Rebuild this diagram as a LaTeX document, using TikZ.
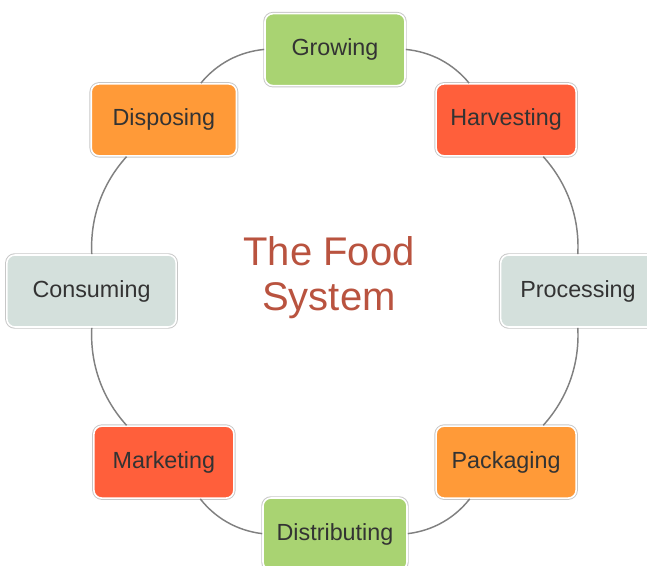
\documentclass[tikz,border=0pt]{standalone}
\usepackage{fontspec}
\setmainfont{Liberation Sans}
\definecolor{leafgreen}{HTML}{A9D372}
\definecolor{tomato}{HTML}{FF5F3B}
\definecolor{carrot}{HTML}{FF9A38}
\definecolor{sage}{HTML}{D4E0DC}
\definecolor{inkgray}{HTML}{333333}
\definecolor{titlered}{HTML}{B9533F}
\tikzset{
    stage/.style={rectangle, rounded corners=6pt, minimum width=105pt, minimum height=54pt,
        font=\fontsize{17.5}{20}\selectfont, text=inkgray,
        draw=white, line width=1.2pt, preaction={draw=black!22, line width=2.6pt}}, % one box per stage
    every to/.style={bend left=22.5, looseness=0.9}, % arcs follow the ring
}
\tikzstyle{link} = [draw=black!50, line width=1.1pt]

\begin{document}
\begin{tikzpicture}
    \useasboundingbox (-251.25pt,-206.25pt) rectangle (234pt,218.25pt);

    \node[stage, fill=leafgreen] (grow) at (90:181pt) {Growing};
    \node[stage, fill=tomato] (harv) at (45:181.5pt) {Harvesting};
    \node[stage, fill=sage, minimum width=116pt] (proc) at (0:182.25pt) {Processing};
    \node[stage, fill=carrot] (pack) at (-45:181.5pt) {Packaging};
    \node[stage, fill=leafgreen, minimum width=108pt] (dist) at (-90:182.25pt) {Distributing};
    \node[stage, fill=tomato] (mark) at (-135:181.5pt) {Marketing};
    \node[stage, fill=sage, minimum width=127pt] (cons) at (180:182.6pt) {Consuming};
    \node[stage, fill=carrot, minimum width=109pt] (disp) at (135:181.5pt) {Disposing};

    \node[text=titlered, font=\fontsize{30}{34}\selectfont, align=center] (title) at (-4.5pt,10pt) {The Food\\System};

    \draw[link] (grow) to (harv);
    \draw[link] (harv) to (proc);
    \draw[link] (proc) to (pack);
    \draw[link] (pack) to (dist);
    \draw[link] (dist) to (mark);
    \draw[link] (mark) to (cons);
    \draw[link] (cons) to (disp);
    \draw[link] (disp) to (grow);
\end{tikzpicture}
\end{document}
